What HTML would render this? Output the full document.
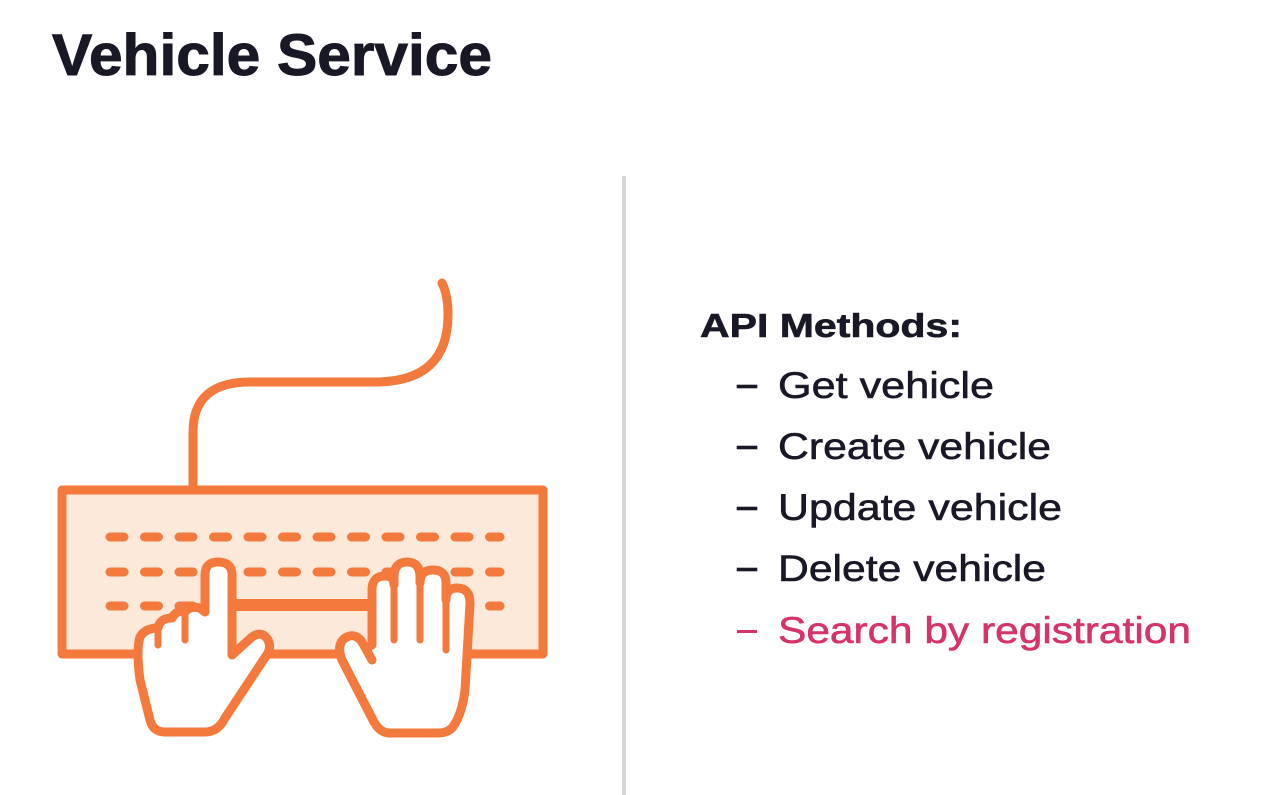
<!DOCTYPE html>
<html><head><meta charset="utf-8"><style>
html,body{margin:0;padding:0;background:#fff;}
svg{display:block;}
text{font-family:"Liberation Sans",sans-serif;}
</style></head><body>
<svg width="1282" height="795" viewBox="0 0 1282 795" xmlns="http://www.w3.org/2000/svg">
<rect width="1282" height="795" fill="#fff"/>
<text x="52" y="75" font-size="58" font-weight="bold" fill="#181826" stroke="#181826" stroke-width="1" textLength="440" lengthAdjust="spacingAndGlyphs">Vehicle Service</text>
<line x1="624" y1="176" x2="624" y2="795" stroke="#d4d4d4" stroke-width="4"/>
<text x="700" y="337" font-size="33" font-weight="bold" fill="#181826" stroke="#181826" stroke-width="0.6" textLength="262" lengthAdjust="spacingAndGlyphs">API Methods:</text>
<g fill="#181826" font-size="37" stroke="#181826" stroke-width="0.6">
<rect x="737" y="385" width="20" height="3"/>
<text x="778" y="398" textLength="216" lengthAdjust="spacingAndGlyphs">Get vehicle</text>
<rect x="737" y="446" width="20" height="3"/>
<text x="778" y="459" textLength="273" lengthAdjust="spacingAndGlyphs">Create vehicle</text>
<rect x="737" y="507" width="20" height="3"/>
<text x="778" y="520" textLength="284" lengthAdjust="spacingAndGlyphs">Update vehicle</text>
<rect x="737" y="568" width="20" height="3"/>
<text x="778" y="581" textLength="268" lengthAdjust="spacingAndGlyphs">Delete vehicle</text>
</g>
<rect x="737" y="630" width="20" height="3" fill="#d6336c"/>
<text x="778" y="643" font-size="37" fill="#d6336c" stroke="#d6336c" stroke-width="0.6" textLength="413" lengthAdjust="spacingAndGlyphs">Search by registration</text>

<g stroke="#f37a3c" stroke-width="9" stroke-linecap="round" stroke-linejoin="round" fill="none">
<path d="M193 486 V432 Q193 382 250 382 H375 Q448 382 448 315 Q448 295 442 283"/>
<rect x="62" y="490" width="481" height="164" fill="#fde9da"/>
<g stroke-dasharray="14 20.5">
<line x1="110" y1="537" x2="500" y2="537"/>
<line x1="110" y1="572" x2="500" y2="572"/>
<line x1="110" y1="606" x2="500" y2="606"/>
</g>
<line x1="232" y1="605" x2="375" y2="605" stroke-width="12"/>
<!-- left hand -->
<path fill="#fff" d="M205 612 V575 Q205 562 218 562 Q232 562 232 575 V655 L252 637 Q262 630 268 640 Q272 648 266 656 L225 718 Q218 732 205 732 H165 Q153 732 150 720 L140 680 Q136 650 140 637 Q145 628 158 628 Q160 618 172 618 Q176 610 186 611 Q190 606 200 608 Z"/>
<line x1="158" y1="630" x2="158" y2="645" stroke-width="7"/>
<line x1="185" y1="612" x2="185" y2="640" stroke-width="7"/>
<!-- right hand -->
<path fill="#fff" d="M372 645 V590 Q372 576 385 576 Q394 576 394 585 V577 Q394 562 407 562 Q420 562 420 577 V583 Q420 570 433 570 Q446 570 446 583 V600 Q446 588 457 588 Q470 588 470 603 L465 690 Q462 715 452 728 Q447 733 438 733 H390 Q380 733 374 722 L342 660 Q336 645 345 638 Q355 632 362 642 L372 660"/>
<line x1="394" y1="585" x2="394" y2="640" stroke-width="7"/>
<line x1="420" y1="580" x2="420" y2="640" stroke-width="7"/>
<line x1="446" y1="598" x2="446" y2="650" stroke-width="7"/>
</g>
</svg>
</body></html>
